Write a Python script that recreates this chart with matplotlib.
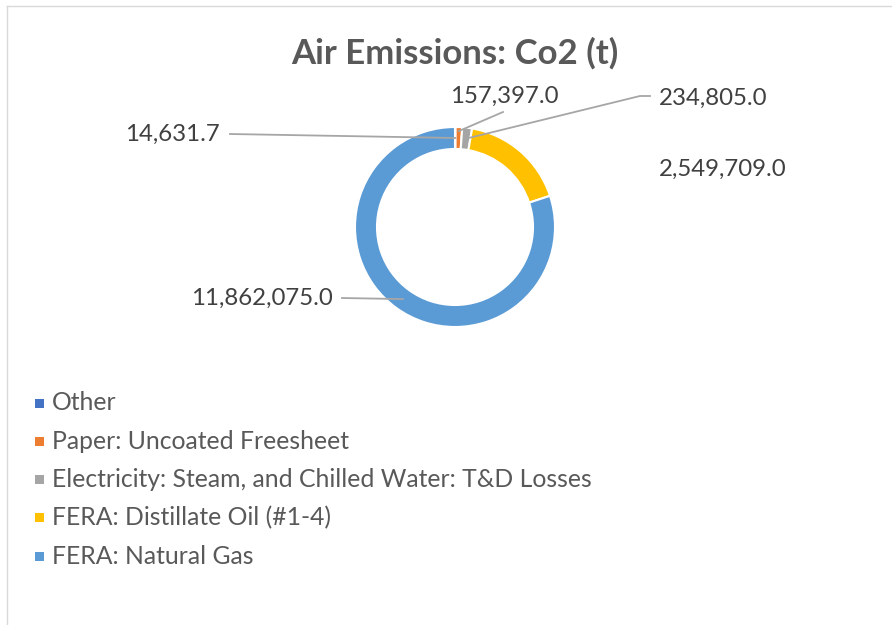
import matplotlib.pyplot as plt
from matplotlib.patches import Rectangle
import numpy as np

# data
categories = ["Other", "Paper: Uncoated Freesheet",
              "Electricity: Steam, and Chilled Water: T&D Losses",
              "FERA: Distillate Oil (#1-4)", "FERA: Natural Gas"]
values = [14631.7, 157397.0, 234805.0, 2549709.0, 11862075.0]
colors = ["#4472C4", "#ED7D31", "#A5A5A5", "#FFC000", "#5B9BD5"]
title = "Air Emissions: Co2 (t)"

W, H = 892, 625
plt.rcParams['font.family'] = ['Lato', 'DejaVu Sans']

fig = plt.figure(figsize=(W / 100, H / 100), dpi=100)
ax = fig.add_axes([0, 0, 1, 1])

def Y(y):
    # image pixel row -> data y
    return H - y

cx, cy, R = 455, 227, 100
wedges, _ = ax.pie(values, colors=colors, startangle=90, counterclock=False,
                   center=(cx, Y(cy)), radius=R,
                   wedgeprops=dict(width=22, edgecolor="white", linewidth=1.5))
ax.set_xlim(0, W)
ax.set_ylim(0, H)
ax.set_aspect("equal")
ax.axis("off")

# chart border (only top/left visible in crop)
ax.plot([7, W], [Y(6), Y(6)], color="#D9D9D9", lw=1)
ax.plot([7, 7], [Y(6), 0], color="#D9D9D9", lw=1)

ax.text(cx, Y(53), title, ha="center", va="center", fontsize=25,
        fontweight="bold", color="#595959")

def anchor(w, rr=None):
    a = np.deg2rad((w.theta1 + w.theta2) / 2)
    r = rr if rr is not None else w.r - 11
    return cx + r * np.cos(a), Y(cy) + r * np.sin(a)

lab_fmt = ["{:,.1f}".format(v) for v in values]
lc = "#A6A6A6"
tc = "#404040"
fs = 17.3

# Other
ax.text(220, Y(134), lab_fmt[0], ha="right", va="center", fontsize=fs, color=tc)
ax.plot([230, anchor(wedges[0])[0]], [Y(134), anchor(wedges[0])[1]], color=lc, lw=1.3)
# Paper
ax.text(504, Y(96), lab_fmt[1], ha="center", va="center", fontsize=fs, color=tc)
ax.plot([503, anchor(wedges[1], 96)[0]], [Y(112), anchor(wedges[1], 96)[1]], color=lc, lw=1.3)
# Electricity
ax.text(659, Y(98), lab_fmt[2], ha="left", va="center", fontsize=fs, color=tc)
ex, ey = anchor(wedges[2])
ax.plot([650, 640, ex], [Y(96), Y(96), ey], color=lc, lw=1.3)
# Distillate (no leader)
ax.text(659, Y(169), lab_fmt[3], ha="left", va="center", fontsize=fs, color=tc)
# Natural gas
ax.text(333, Y(298), lab_fmt[4], ha="right", va="center", fontsize=fs, color=tc)
gx, gy = anchor(wedges[4])
ax.plot([342, gx], [Y(298), gy], color=lc, lw=1.3)

# legend
for i, (lab, c) in enumerate(zip(categories, colors)):
    yy = 403 + i * 38.3
    ax.add_patch(Rectangle((35, Y(yy) - 4.5), 9, 9, color=c, lw=0))
    ax.text(52, Y(yy), lab, ha="left", va="center", fontsize=17.8, color="#595959")

fig.savefig("out.png", dpi=100)
